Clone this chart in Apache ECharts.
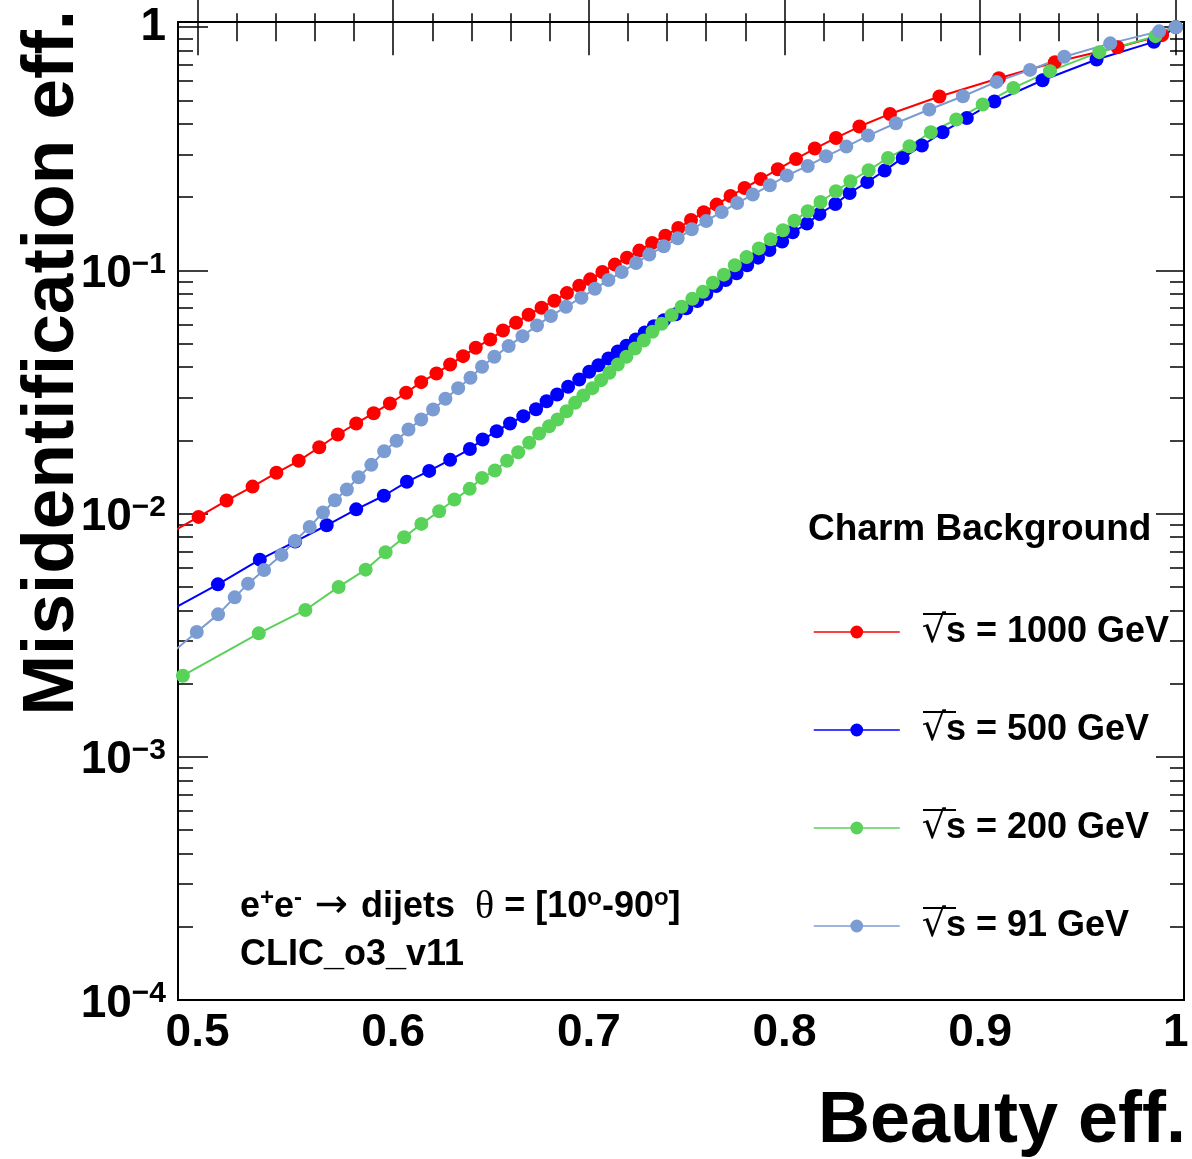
<!DOCTYPE html>
<html>
<head>
<meta charset="utf-8">
<script src="https://cdn.jsdelivr.net/npm/echarts@6/dist/echarts.min.js"></script>
<style>
  html, body { margin: 0; padding: 0; background: #ffffff; }
  #chart { width: 1192px; height: 1159px; }
</style>
</head>
<body>
<div id="chart"></div>
<script>
// b-tagging performance: charm mis-identification vs beauty efficiency
const energies = ['1000', '500', '200', '91'];
const colors = ['#ff0000', '#0000ff', '#59d259', '#7b9bd3'];

const beauty1000 = [0.4864,0.5005,0.5148,0.5281,0.5403,0.5517,0.5622,0.5717,0.5811,0.5900,0.5983,0.6066,0.6143,0.6221,0.6291,0.6357,0.6422,0.6496,0.6561,0.6628,0.6692,0.6758,0.6824,0.6888,0.6951,0.7007,0.7069,0.7133,0.7195,0.7258,0.7323,0.7391,0.7457,0.7522,0.7587,0.7653,0.7724,0.7796,0.7879,0.7966,0.8059,0.8155,0.8263,0.8383,0.8539,0.8792,0.9096,0.9382,0.9702,0.9930,1.0];
const misid1000 = [0.00835,0.00969,0.01131,0.01291,0.01471,0.01648,0.01874,0.02114,0.02347,0.02587,0.02836,0.03139,0.03470,0.03769,0.04104,0.04440,0.04807,0.05200,0.05663,0.06092,0.06573,0.07022,0.07503,0.08065,0.08650,0.09184,0.09840,0.1056,0.1128,0.1206,0.1296,0.1389,0.1493,0.1611,0.1733,0.1864,0.2021,0.2182,0.2375,0.2603,0.2871,0.3168,0.3503,0.3903,0.4397,0.5187,0.6168,0.7178,0.8273,0.927,1.0];

const beauty500 = [0.4848,0.5104,0.5318,0.5499,0.5660,0.5811,0.5952,0.6070,0.6184,0.6291,0.6392,0.6457,0.6529,0.6597,0.6665,0.6730,0.6784,0.6838,0.6894,0.6951,0.7002,0.7049,0.7100,0.7148,0.7192,0.7240,0.7286,0.7333,0.7384,0.7444,0.7498,0.7554,0.7600,0.7651,0.7699,0.7755,0.7809,0.7865,0.7923,0.7988,0.8042,0.8115,0.8179,0.8260,0.8333,0.8423,0.8512,0.8604,0.8702,0.8808,0.8932,0.9073,0.9319,0.9595,0.9888,1.0];
const misid500 = [0.003951,0.005118,0.006466,0.007669,0.008953,0.01041,0.01184,0.01351,0.01498,0.01663,0.01842,0.02016,0.02181,0.02347,0.02515,0.02686,0.02898,0.03088,0.03322,0.03558,0.03828,0.04075,0.04343,0.04642,0.04898,0.05200,0.05556,0.05898,0.06243,0.06594,0.06979,0.07474,0.07989,0.08617,0.09123,0.09720,0.1049,0.1128,0.1212,0.1314,0.1433,0.1557,0.1705,0.1874,0.2080,0.2309,0.2572,0.2899,0.3260,0.3698,0.4233,0.4944,0.6050,0.7364,0.8700,1.0];

const beauty200 = [0.4925,0.5313,0.5551,0.5721,0.5859,0.5961,0.6056,0.6144,0.6235,0.6313,0.6391,0.6454,0.6520,0.6582,0.6639,0.6695,0.6746,0.6797,0.6840,0.6886,0.6930,0.6972,0.7018,0.7063,0.7105,0.7148,0.7192,0.7236,0.7281,0.7325,0.7372,0.7423,0.7474,0.7529,0.7583,0.7634,0.7690,0.7746,0.7806,0.7869,0.7929,0.7992,0.8051,0.8119,0.8184,0.8263,0.8337,0.8430,0.8529,0.8639,0.8748,0.8878,0.9013,0.9170,0.9357,0.9609,0.9896,1.0];
const misid200 = [0.002154,0.003217,0.004015,0.004993,0.005882,0.006931,0.007990,0.009071,0.01022,0.01142,0.01264,0.01402,0.01503,0.01648,0.01788,0.01954,0.02134,0.02287,0.02436,0.02636,0.02855,0.03058,0.03278,0.03536,0.03793,0.04104,0.04415,0.04775,0.05151,0.05593,0.06033,0.06547,0.07090,0.07645,0.08171,0.08897,0.09601,0.1049,0.1134,0.1231,0.1341,0.1463,0.1601,0.1749,0.1910,0.2114,0.2324,0.2580,0.2899,0.3238,0.3698,0.4171,0.4806,0.5626,0.6592,0.7891,0.9182,1.0];

const beauty91 = [0.4859,0.4996,0.5105,0.5190,0.5258,0.5340,0.5429,0.5498,0.5573,0.5641,0.5702,0.5763,0.5823,0.5888,0.5954,0.6017,0.6078,0.6143,0.6204,0.6267,0.6332,0.6395,0.6454,0.6517,0.6590,0.6661,0.6735,0.6806,0.6883,0.6962,0.7031,0.7100,0.7168,0.7241,0.7309,0.7383,0.7454,0.7526,0.7600,0.7679,0.7758,0.7838,0.7925,0.8012,0.8119,0.8212,0.8316,0.8427,0.8569,0.8740,0.8912,0.9083,0.9255,0.9430,0.9665,0.9915,1.0];
const misid91 = [0.002636,0.003260,0.003851,0.004524,0.005151,0.005865,0.006761,0.007720,0.008817,0.01010,0.01134,0.01256,0.01411,0.01586,0.01805,0.01991,0.02216,0.02436,0.02679,0.02965,0.03278,0.03618,0.04015,0.04415,0.04882,0.05365,0.05939,0.06486,0.07090,0.07719,0.08408,0.09123,0.09840,0.1072,0.1161,0.1256,0.1354,0.1475,0.1596,0.1738,0.1892,0.2049,0.2238,0.2455,0.2687,0.2945,0.3228,0.3583,0.4026,0.4585,0.5200,0.5954,0.6672,0.7560,0.8578,0.9610,1.0];

// axis ranges and tick labels
const xMin = 0.49, xMax = 1.0042;
const yMin = 1e-4, yMax = 1.05;
const xTickValues = [0.5, 0.6, 0.7, 0.8, 0.9, 1.0];
const xTickLabels = ['0.5', '0.6', '0.7', '0.8', '0.9', '1'];
const yTickExps = [-4, -3, -2, -1, 0];
const yTickBases = ['10', '10', '10', '10', '1'];
const yTickSups = ['\u22124', '\u22123', '\u22122', '\u22121', ''];

const xMinor = [];
for (let k = 25; k <= 50; k++) xMinor.push(k / 50);
const yMinor = [];
for (let n = -4; n < 0; n++) for (let k = 2; k <= 9; k++) yMinor.push(n + Math.log10(k));

const FONT = '"Liberation Sans", Arial, Helvetica, sans-serif';
const curves = [
  [beauty1000, misid1000], [beauty500, misid500], [beauty200, misid200], [beauty91, misid91]
];
const names = energies.map(e => '\u221As = ' + e + ' GeV');

const tickStyle = { color: '#000', width: 1.5 };
function xAxisDef(pos, values, len, labels) {
  return {
    type: 'value', position: pos, min: xMin, max: xMax,
    axisLine: { show: false }, splitLine: { show: false },
    axisTick: { show: true, inside: true, length: len, lineStyle: tickStyle, customValues: values },
    axisLabel: labels ? {
      show: true, customValues: xTickValues, margin: 10,
      fontFamily: FONT, fontSize: 46, fontWeight: 'bold', color: '#000', lineHeight: 46,
      formatter: v => { const i = xTickValues.findIndex(t => Math.abs(t - v) < 1e-6); return i >= 0 ? xTickLabels[i] : ''; }
    } : { show: false }
  };
}
const logMin = Math.log10(yMin), logMax = Math.log10(yMax);
function yAxisDef(pos, values, len, labels) {
  return {
    type: 'value', position: pos, min: logMin, max: logMax,
    axisLine: { show: false }, splitLine: { show: false },
    axisTick: { show: true, inside: true, length: len, lineStyle: tickStyle, customValues: values },
    axisLabel: labels ? {
      show: true, customValues: yTickExps, margin: 12,
      formatter: v => {
        const i = yTickExps.findIndex(t => Math.abs(t - v) < 1e-6);
        if (i < 0) return '';
        return yTickSups[i] ? '{b|' + yTickBases[i] + '}{s|' + yTickSups[i] + '}' : '{c|' + yTickBases[i] + '}';
      },
      rich: {
        b: { fontFamily: FONT, fontSize: 46, fontWeight: 'bold', color: '#000', lineHeight: 58, padding: [8, 0, 0, 0] },
        c: { fontFamily: FONT, fontSize: 46, fontWeight: 'bold', color: '#000', lineHeight: 58 },
        s: { fontFamily: FONT, fontSize: 30, fontWeight: 'bold', color: '#000', lineHeight: 30, verticalAlign: 'top', padding: [8, 0, 0, 0] }
      }
    } : { show: false }
  };
}

const chart = echarts.init(document.getElementById('chart'), null, { renderer: 'canvas' });
const annotRich = {
  t: { fontFamily: FONT, fontSize: 36, fontWeight: 'bold', fill: '#000', lineHeight: 42 },
  u: { fontFamily: FONT, fontSize: 24, fontWeight: 'bold', fill: '#000', lineHeight: 24, verticalAlign: 'top' },
  a: { fontFamily: '"DejaVu Sans"', fontSize: 40, fontWeight: 'normal', fill: '#000', lineHeight: 42 },
  g: { fontFamily: '"Liberation Serif"', fontSize: 40, fontWeight: 'normal', fill: '#000', lineHeight: 42 }
};

chart.setOption({
  animation: false,
  backgroundColor: '#ffffff',
  grid: { left: 178, right: 8, top: 22, bottom: 159, show: true, borderColor: '#000', borderWidth: 2, outerBoundsMode: 'none' },
  xAxis: [
    xAxisDef('bottom', xTickValues, 28, true),
    xAxisDef('bottom', xMinor, 14, false),
    xAxisDef('top', xTickValues, 28, false),
    xAxisDef('top', xMinor, 14, false)
  ],
  yAxis: [
    { type: 'log', logBase: 10, min: yMin, max: yMax, show: false },
    yAxisDef('left', yTickExps, 30, true),
    yAxisDef('left', yMinor, 15, false),
    yAxisDef('right', yTickExps, 28, false),
    yAxisDef('right', yMinor, 14, false)
  ],
  legend: {
    orient: 'vertical', left: 813, top: 612, padding: 0, itemWidth: 86, itemHeight: 16, itemGap: 58,
    selectedMode: false, data: names,
    lineStyle: { width: 1.5 },
    formatter: name => '{r|\u221A}{s|s}{t|' + name.slice(2) + '}',
    textStyle: {
      color: '#000', fontFamily: FONT, fontSize: 36, fontWeight: 'bold', lineHeight: 40,
      rich: {
        r: { fontFamily: '"DejaVu Sans"', fontSize: 38, fontWeight: 'normal', color: '#000', lineHeight: 40, padding: [0, 0, 0, 17] },
        s: { fontFamily: FONT, fontSize: 36, fontWeight: 'bold', color: '#000', lineHeight: 40 },
        t: { fontFamily: FONT, fontSize: 36, fontWeight: 'bold', color: '#000', lineHeight: 40 }
      }
    }
  },
  series: curves.map((c, k) => ({
    name: names[k], type: 'line', xAxisIndex: 0, yAxisIndex: 0,
    data: c[0].map((x, i) => [x, c[1][i]]),
    symbol: 'circle', symbolSize: 14, showAllSymbol: true, clip: true,
    lineStyle: { color: colors[k], width: 2 },
    itemStyle: { color: colors[k] },
    emphasis: { disabled: true }
  })),
  graphic: [
    { type: 'text', x: 53, y: 10, rotation: Math.PI / 2,
      style: { text: 'Misidentification eff.', fontFamily: FONT, fontSize: 73, fontWeight: 'bold', fill: '#000', align: 'right', verticalAlign: 'middle' } },
    { type: 'text', x: 1186, y: 1122,
      style: { text: 'Beauty eff.', fontFamily: FONT, fontSize: 72, fontWeight: 'bold', fill: '#000', align: 'right', verticalAlign: 'middle' } },
    { type: 'text', x: 808, y: 530,
      style: { text: 'Charm Background', fontFamily: FONT, fontSize: 37, fontWeight: 'bold', fill: '#000', align: 'left', verticalAlign: 'middle' } },
    { type: 'text', x: 240, y: 907,
      style: { text: '{t|e}{u|+}{t|e}{u|-}{a| \u2192 }{t|dijets  }{g|\u03B8}{t| = [10}{u|o}{t|-90}{u|o}{t|]}', rich: annotRich, align: 'left', verticalAlign: 'middle' } },
    { type: 'text', x: 240, y: 955,
      style: { text: 'CLIC_o3_v11', fontFamily: FONT, fontSize: 36, fontWeight: 'bold', fill: '#000', align: 'left', verticalAlign: 'middle' } }
  ].concat([614, 712, 810, 908].map(y => ({
    type: 'line', shape: { x1: 923, y1: y, x2: 956, y2: y }, style: { stroke: '#000', lineWidth: 2 }
  })))
});
</script>
</body>
</html>
